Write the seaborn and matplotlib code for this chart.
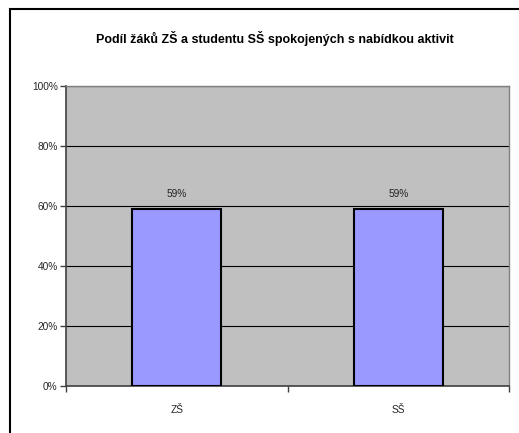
import matplotlib
matplotlib.use("Agg")
import matplotlib.pyplot as plt
import seaborn as sns
import pandas as pd
from matplotlib.patches import Rectangle
from matplotlib.ticker import FuncFormatter

categories = ["ZŠ", "SŠ"]
values = [0.59, 0.59]
title = "Podíl žáků ZŠ a studentu SŠ spokojených s nabídkou aktivit"

sns.set_theme(style="white")
plt.rcParams['font.family'] = ['Liberation Sans', 'DejaVu Sans']

W, H = 519, 433
fig = plt.figure(figsize=(W / 100, H / 100), dpi=100)
# figure border (extends beyond right and bottom edges)
fig.patches.append(Rectangle((9.5 / W, -0.1), 1.2, 1 - 9.5 / H + 0.1,
                             transform=fig.transFigure, fill=False,
                             edgecolor="black", linewidth=1.5, zorder=10))

left, right, top, bottom = 66, 509, 86, 386
ax = fig.add_axes([left / W, 1 - bottom / H, (right - left) / W, (bottom - top) / H])
ax.set_facecolor("#C0C0C0")

df = pd.DataFrame({"cat": categories, "val": values})
sns.barplot(data=df, x="cat", y="val", ax=ax, color="#9999FF", width=0.40,
            edgecolor="black", linewidth=1.5, saturation=1, zorder=3)

ax.set_ylim(0, 1)
ax.set_xlim(-0.5, 1.5)
ax.set_yticks([0, 0.2, 0.4, 0.6, 0.8, 1.0])
ax.yaxis.set_major_formatter(FuncFormatter(lambda v, p: f"{v*100:.0f}%"))
ax.grid(axis="y", color="black", linewidth=0.8, zorder=0)
ax.set_axisbelow(True)
ax.set_xlabel("")
ax.set_ylabel("")

for c in ax.containers:
    ax.bar_label(c, labels=[f"{v*100:.0f}%" for v in values], padding=7,
                 fontsize=7.3, color="#222222")

for s in ["left", "bottom"]:
    ax.spines[s].set_color("#404040")
    ax.spines[s].set_linewidth(1.2)
for s in ["right", "top"]:
    ax.spines[s].set_color("#808080")
    ax.spines[s].set_linewidth(1.0)

ax.tick_params(axis="y", which="major", length=4, width=1, color="#404040",
               labelsize=7.3, pad=2, left=True, direction="out")
ax.tick_params(axis="x", which="major", length=0, labelsize=7.3, pad=14)
ax.set_xticks([0, 1])
ax.set_xticklabels(categories)
ax.set_xticks([-0.5, 0.5, 1.5], minor=True)
ax.tick_params(axis="x", which="minor", length=4, width=1, color="#404040",
               bottom=True, direction="out")

fig.text(275 / W, 1 - 38 / H, title, ha="center", va="center",
         fontsize=9, fontweight="bold", color="black")

fig.savefig("out.png", dpi=100, facecolor="white")
